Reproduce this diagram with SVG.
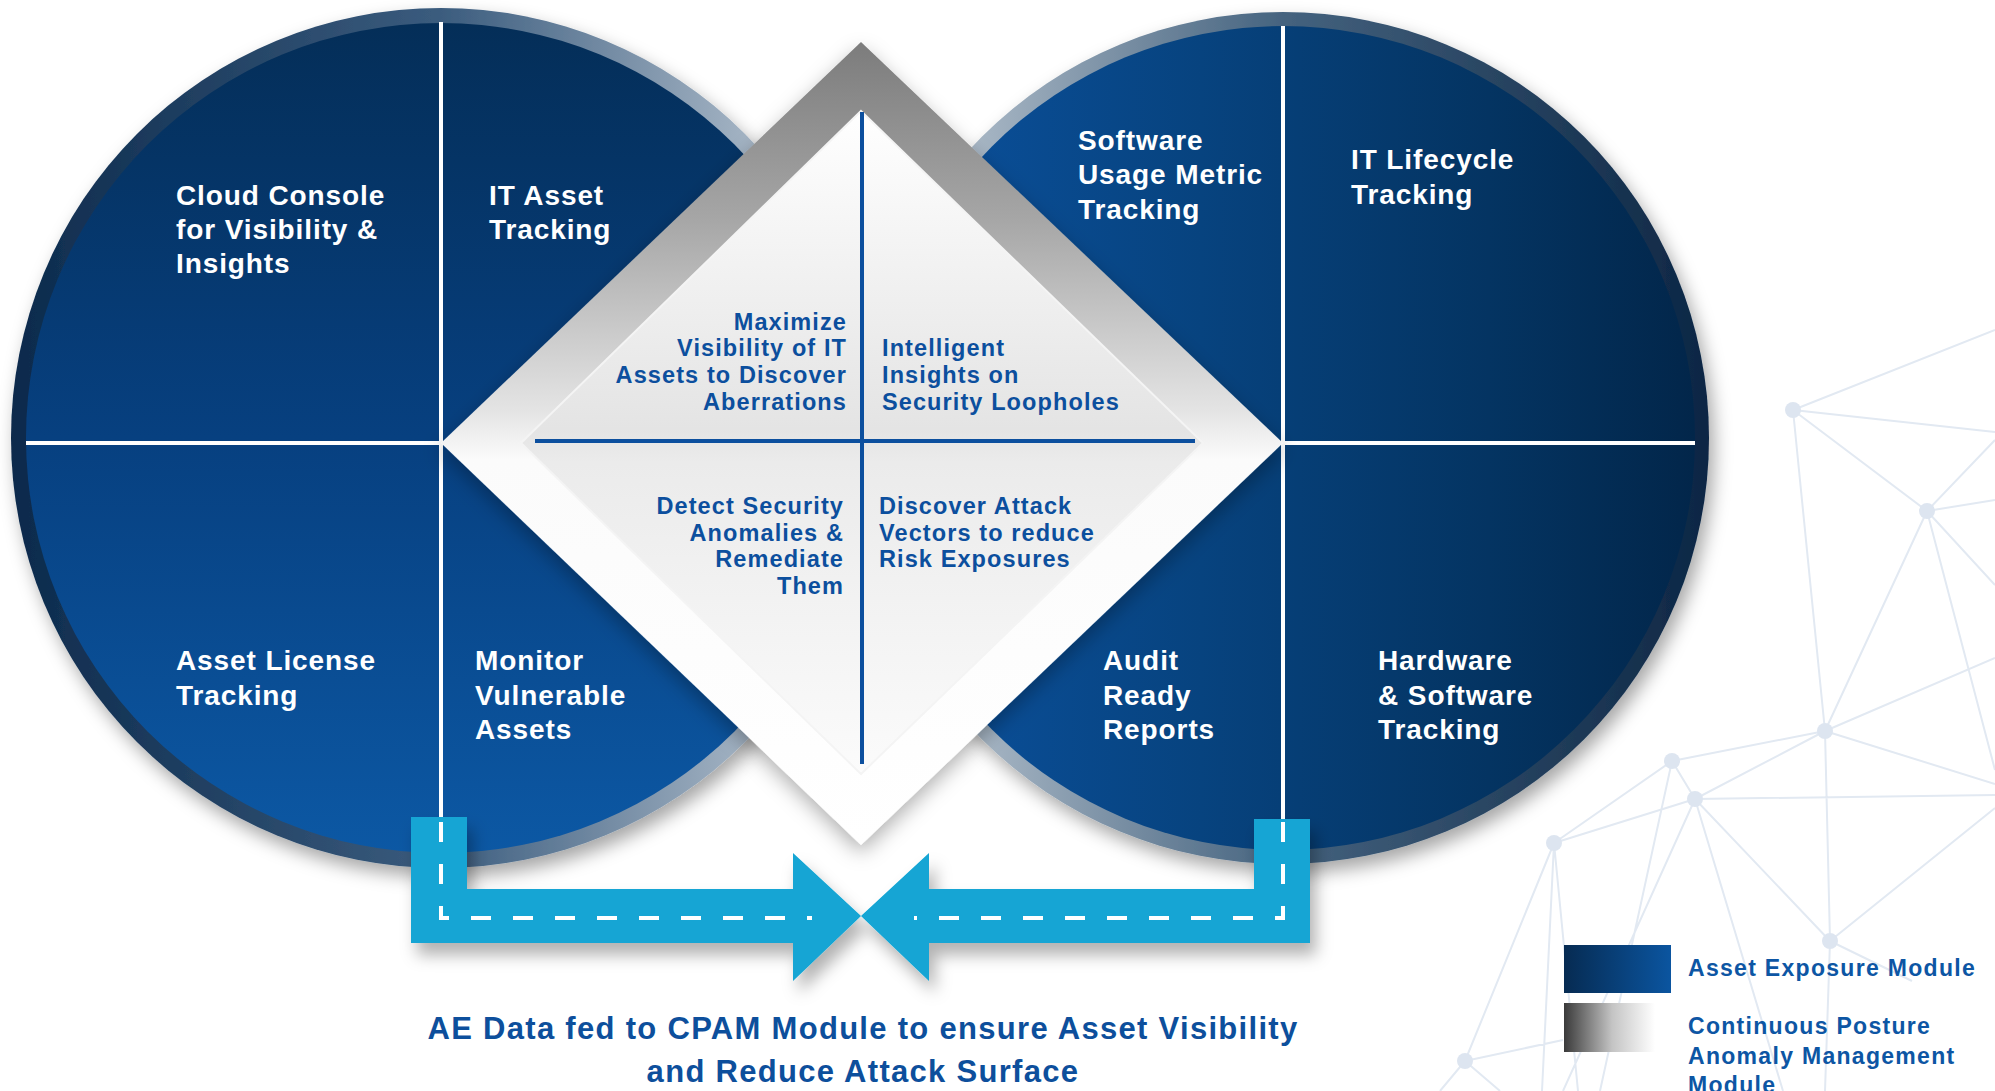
<svg xmlns="http://www.w3.org/2000/svg" width="1995" height="1091" viewBox="0 0 1995 1091">
<defs>
<style>
.lbl{font-family:"Liberation Sans",Arial,sans-serif;font-weight:700;font-size:28px;letter-spacing:0.9px;fill:#ffffff}
.dtx{font-family:"Liberation Sans",Arial,sans-serif;font-weight:700;font-size:23.5px;letter-spacing:1.1px;fill:#0c4f9e}
.ttl{font-family:"Liberation Sans",Arial,sans-serif;font-weight:700;font-size:31px;letter-spacing:1.3px;fill:#0d4f9c}
.leg{font-family:"Liberation Sans",Arial,sans-serif;font-weight:700;font-size:23px;letter-spacing:1.3px;fill:#0d56a4}
.net{stroke:#e2e9f2;stroke-width:2;fill:none}
.nd{fill:#dde5f0}
.div{stroke:#ffffff;stroke-width:4}
.bl{stroke:#0c4f9e;stroke-width:4}
.dash{stroke:#ffffff;stroke-width:4;fill:none;stroke-dasharray:20 22}
.arr{fill:#12a5d4}
</style>
<linearGradient id="ringL" x1="0" y1="0" x2="1" y2="0">
<stop offset="0" stop-color="#0c2a4c"/><stop offset="0.5" stop-color="#3b5c7e"/><stop offset="1" stop-color="#cdd6df"/>
</linearGradient>
<linearGradient id="ringR" x1="0" y1="0" x2="1" y2="0">
<stop offset="0" stop-color="#cdd6df"/><stop offset="0.5" stop-color="#45637f"/><stop offset="1" stop-color="#0c2644"/>
</linearGradient>
<linearGradient id="fillL" x1="0" y1="0" x2="0" y2="1">
<stop offset="0" stop-color="#042e58"/><stop offset="0.5" stop-color="#074080"/><stop offset="1" stop-color="#0c58a4"/>
</linearGradient>
<linearGradient id="fillR" x1="0" y1="0" x2="1" y2="0">
<stop offset="0" stop-color="#0b52a0"/><stop offset="0.4" stop-color="#07437f"/><stop offset="0.75" stop-color="#043462"/><stop offset="1" stop-color="#02264a"/>
</linearGradient>
<linearGradient id="frame" x1="0" y1="0" x2="0" y2="1">
<stop offset="0" stop-color="#7c7c7c"/><stop offset="0.22" stop-color="#a6a6a6"/><stop offset="0.46" stop-color="#e4e4e4"/><stop offset="0.52" stop-color="#fbfbfb"/><stop offset="1" stop-color="#ffffff"/>
</linearGradient>
<linearGradient id="inner" x1="0" y1="0" x2="0" y2="1">
<stop offset="0" stop-color="#ffffff"/><stop offset="0.48" stop-color="#e4e4e4"/><stop offset="0.53" stop-color="#ebebeb"/><stop offset="1" stop-color="#fbfbfb"/>
</linearGradient>
<linearGradient id="legB" x1="0" y1="0" x2="1" y2="0">
<stop offset="0" stop-color="#062b52"/><stop offset="1" stop-color="#0b55a0"/>
</linearGradient>
<linearGradient id="legG" x1="0" y1="0" x2="1" y2="0">
<stop offset="0" stop-color="#3a3a3a"/><stop offset="0.45" stop-color="#c4c4c4"/><stop offset="0.85" stop-color="#ffffff"/><stop offset="1" stop-color="#ffffff"/>
</linearGradient>
<filter id="sh" x="-10%" y="-10%" width="125%" height="125%">
<feDropShadow dx="5" dy="9" stdDeviation="9" flood-color="#000" flood-opacity="0.35"/>
</filter>
<filter id="shD" x="-10%" y="-10%" width="120%" height="125%">
<feDropShadow dx="0" dy="8" stdDeviation="10" flood-color="#000" flood-opacity="0.3"/>
</filter>
<filter id="shA" x="-10%" y="-20%" width="120%" height="160%">
<feDropShadow dx="6" dy="12" stdDeviation="8" flood-color="#000" flood-opacity="0.3"/>
</filter>
</defs>
<rect width="1995" height="1091" fill="#ffffff"/>

<g id="background-network">
<path class="net" d="M1793,410 L1995,330 M1793,410 L1995,432 M1793,410 L1927,511 M1793,410 L1825,731 M1927,511 L1995,440 M1927,511 L1995,500 M1927,511 L1995,585 M1927,511 L1825,731 M1927,511 L1995,770 M1825,731 L1995,658 M1825,731 L1995,784 M1825,731 L1672,761 M1825,731 L1695,799 M1825,731 L1830,941 M1695,799 L1995,795 M1695,799 L1830,941 M1695,799 L1563,1091 M1695,799 L1783,1091 M1672,761 L1695,799 M1672,761 L1554,843 M1672,761 L1600,1091 M1695,799 L1554,843 M1554,843 L1542,1091 M1554,843 L1465,1061 M1554,843 L1578,1091 M1830,941 L1995,808 M1830,941 L1912,981 M1830,941 L1825,1091 M1465,1061 L1563,1040 M1465,1061 L1440,1091 M1465,1061 L1500,1091"/>
<circle class="nd" cx="1793" cy="410" r="8"/>
<circle class="nd" cx="1927" cy="511" r="8"/>
<circle class="nd" cx="1825" cy="731" r="8"/>
<circle class="nd" cx="1672" cy="761" r="8"/>
<circle class="nd" cx="1695" cy="799" r="8"/>
<circle class="nd" cx="1554" cy="843" r="8"/>
<circle class="nd" cx="1830" cy="941" r="8"/>
<circle class="nd" cx="1465" cy="1061" r="8"/>
</g>

<g id="asset-exposure-left">
<circle cx="441" cy="438" r="430" fill="url(#ringL)" filter="url(#sh)"/>
<circle cx="441" cy="438" r="415" fill="url(#fillL)"/>
<line class="div" x1="441" y1="22" x2="441" y2="820"/>
<line class="div" x1="26" y1="443" x2="441" y2="443"/>
</g>

<g id="asset-exposure-right">
<circle cx="1283" cy="438" r="426" fill="url(#ringR)" filter="url(#sh)"/>
<circle cx="1283" cy="438" r="412" fill="url(#fillR)"/>
<line class="div" x1="1283" y1="26" x2="1283" y2="820"/>
<line class="div" x1="1283" y1="443" x2="1695" y2="443"/>
</g>

<g id="cpam-diamond">
<polygon points="861,42 1283,443 861,845 441,443" fill="url(#frame)" filter="url(#shD)"/>
<polygon points="861,111 1203,443 861,774 521,443" fill="url(#inner)" stroke="#f4f4f4" stroke-width="2"/>
<line class="bl" x1="862" y1="112" x2="862" y2="764"/>
<line class="bl" x1="535" y1="441" x2="1195" y2="441"/>
</g>

<g id="n-cloud-console">
<text class="lbl" x="176" y="205">Cloud Console</text>
<text class="lbl" x="176" y="239">for Visibility &amp;</text>
<text class="lbl" x="176" y="273">Insights</text>
</g>
<g id="n-it-asset">
<text class="lbl" x="489" y="205">IT Asset</text>
<text class="lbl" x="489" y="239">Tracking</text>
</g>
<g id="n-asset-license">
<text class="lbl" x="176" y="670">Asset License</text>
<text class="lbl" x="176" y="705">Tracking</text>
</g>
<g id="n-monitor">
<text class="lbl" x="475" y="670">Monitor</text>
<text class="lbl" x="475" y="705">Vulnerable</text>
<text class="lbl" x="475" y="739">Assets</text>
</g>
<g id="n-software-usage">
<text class="lbl" x="1078" y="150">Software</text>
<text class="lbl" x="1078" y="184">Usage Metric</text>
<text class="lbl" x="1078" y="219">Tracking</text>
</g>
<g id="n-it-lifecycle">
<text class="lbl" x="1351" y="169">IT Lifecycle</text>
<text class="lbl" x="1351" y="204">Tracking</text>
</g>
<g id="n-audit">
<text class="lbl" x="1103" y="670">Audit</text>
<text class="lbl" x="1103" y="705">Ready</text>
<text class="lbl" x="1103" y="739">Reports</text>
</g>
<g id="n-hw-sw">
<text class="lbl" x="1378" y="670">Hardware</text>
<text class="lbl" x="1378" y="705">&amp; Software</text>
<text class="lbl" x="1378" y="739">Tracking</text>
</g>

<g id="n-maximize" text-anchor="end">
<text class="dtx" x="847" y="330">Maximize</text>
<text class="dtx" x="847" y="356">Visibility of IT</text>
<text class="dtx" x="847" y="383">Assets to Discover</text>
<text class="dtx" x="847" y="410">Aberrations</text>
</g>
<g id="n-intelligent">
<text class="dtx" x="882" y="356">Intelligent</text>
<text class="dtx" x="882" y="383">Insights on</text>
<text class="dtx" x="882" y="410">Security Loopholes</text>
</g>
<g id="n-detect" text-anchor="end">
<text class="dtx" x="844" y="514">Detect Security</text>
<text class="dtx" x="844" y="541">Anomalies &amp;</text>
<text class="dtx" x="844" y="567">Remediate</text>
<text class="dtx" x="844" y="594">Them</text>
</g>
<g id="n-discover">
<text class="dtx" x="879" y="514">Discover Attack</text>
<text class="dtx" x="879" y="541">Vectors to reduce</text>
<text class="dtx" x="879" y="567">Risk Exposures</text>
</g>

<g id="connectors">
<g filter="url(#shA)">
<polygon class="arr" points="411,817 467,817 467,889 793,889 793,853 861,916 793,981 793,943 411,943"/>
<polygon class="arr" points="1310,819 1254,819 1254,889 929,889 929,853 861,916 929,981 929,943 1310,943"/>
</g>
<path class="dash" d="M441,822 V918 H812"/>
<path class="dash" d="M1283,822 V918 H914"/>
</g>

<g id="caption" text-anchor="middle">
<text class="ttl" x="863" y="1039">AE Data fed to CPAM Module to ensure Asset Visibility</text>
<text class="ttl" x="863" y="1082">and Reduce Attack Surface</text>
</g>

<g id="legend">
<rect x="1564" y="945" width="107" height="48" fill="url(#legB)"/>
<rect x="1564" y="1003" width="107" height="49" fill="url(#legG)"/>
<text class="leg" x="1688" y="976">Asset Exposure Module</text>
<text class="leg" x="1688" y="1034">Continuous Posture</text>
<text class="leg" x="1688" y="1064">Anomaly Management</text>
<text class="leg" x="1688" y="1093">Module</text>
</g>
</svg>
